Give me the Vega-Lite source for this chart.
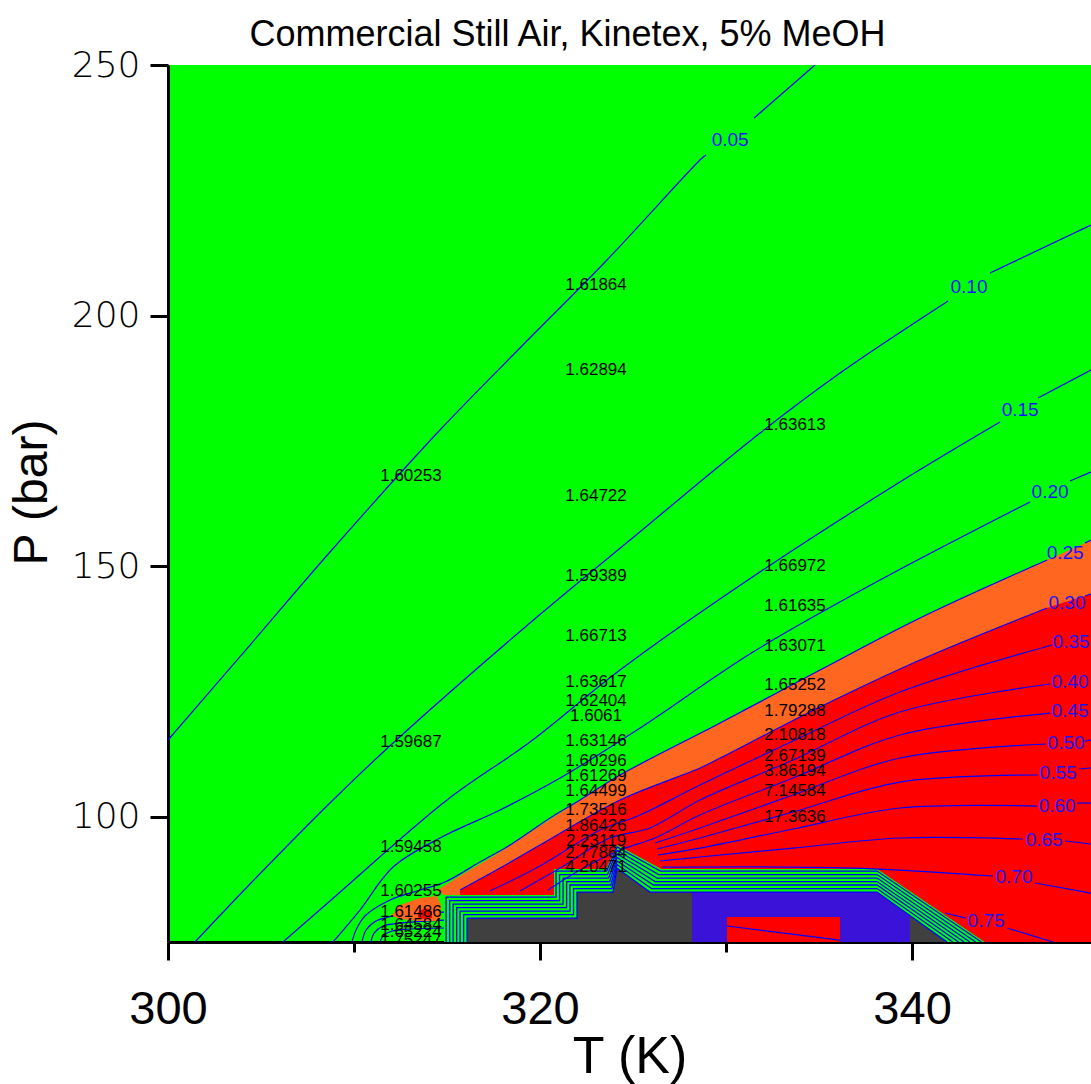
{
"$schema": "https://vega.github.io/schema/vega-lite/v6.json",
"width": 923, "height": 877,
"autosize": {"type": "none"},
"padding": {"left": 168, "top": 65, "right": 0, "bottom": 142},
"background": "white",
"title": {"text": "Commercial Still Air, Kinetex, 5% MeOH", "font": "Liberation Sans", "fontSize": 36, "fontWeight": "normal", "color": "black", "anchor": "middle", "frame": "group", "dx": -62, "dy": 37, "offset": 2, "baseline": "alphabetic"},
"config": {"view": {"fill": "#00ff00", "stroke": null}},
"datasets": {
"orange": [
{"T":314.46,"P":85.37,"P2":85.2},{"T":314.84,"P":86.22,"P2":84.37},{"T":315.70,"P":88.16,"P2":75},{"T":317.85,"P":92.95,"P2":75},{"T":320.0,"P":98.14,"P2":75},{"T":322.15,"P":103.33,"P2":75},{"T":324.30,"P":108.32,"P2":75},{"T":329.68,"P":118.70,"P2":75},{"T":335.05,"P":129.27,"P2":75},{"T":340.43,"P":139.65,"P2":75},{"T":347.26,"P":151.22,"P2":75},{"T":349.30,"P":154.62,"P2":75},{"T":349.62,"P":155.21,"P2":75}],
"red": [
{"T":315.70,"P":85.37},{"T":317.85,"P":89.76},{"T":320.0,"P":94.35},{"T":324.30,"P":103.33},{"T":328.60,"P":109.72},{"T":329.68,"P":111.71},{"T":335.05,"P":121.89},{"T":340.43,"P":131.27},{"T":347.26,"P":141.64},{"T":349.30,"P":144.04},{"T":349.62,"P":144.44}],
"zone": [
{"T":314.84,"P":84.37},{"T":320.75,"P":84.37},{"T":320.75,"P":89.56},{"T":323.55,"P":89.56},{"T":324.14,"P":94.35},{"T":326.52,"P":89.56},{"T":338.12,"P":89.56},{"T":343.90,"P":75}],
"bluezone": [
{"T":328.17,"P":84.97},{"T":338.12,"P":84.97},{"T":339.89,"P":80.18}],
"gray": [
{"T":316.08,"P":79.78},{"T":321.99,"P":79.78},{"T":321.99,"P":84.97},{"T":323.92,"P":84.97},{"T":324.14,"P":89.76},{"T":325.91,"P":84.97},{"T":328.17,"P":84.97}],
"gtri": [
{"T":339.89,"P":80.18},{"T":341.88,"P":75}],
"rbox": [
{"T":330.05,"P":79.98},{"T":336.13,"P":79.98}],
"blob": [
{"T":312.04,"P":80.38,"P2":80.18},{"T":312.47,"P":82.38,"P2":79.58},{"T":313.55,"P":83.77,"P2":79.18},{"T":314.46,"P":84.17,"P2":79.18},{"T":314.68,"P":82.38,"P2":79.78}],
"spot": [
{"T":313.44,"P":81.0,"P2":79.9},{"T":313.82,"P":81.8,"P2":79.6},{"T":314.19,"P":81.2,"P2":79.8}],
"stripes": [
{"s":0,"i":0,"T":316.08,"P":75},{"s":0,"i":1,"T":316.08,"P":79.78},{"s":0,"i":2,"T":321.99,"P":79.78},{"s":0,"i":3,"T":321.99,"P":84.97},{"s":0,"i":4,"T":323.92,"P":84.97},{"s":0,"i":5,"T":324.14,"P":89.76},{"s":0,"i":6,"T":325.91,"P":84.97},{"s":0,"i":7,"T":338.12,"P":84.97},{"s":0,"i":8,"T":341.88,"P":75},
{"s":1,"i":0,"T":315.89,"P":75},{"s":1,"i":1,"T":315.89,"P":80.48},{"s":1,"i":2,"T":321.80,"P":80.48},{"s":1,"i":3,"T":321.80,"P":85.67},{"s":1,"i":4,"T":323.86,"P":85.67},{"s":1,"i":5,"T":324.14,"P":90.46},{"s":1,"i":6,"T":326.00,"P":85.67},{"s":1,"i":7,"T":338.12,"P":85.67},{"s":1,"i":8,"T":342.19,"P":75},
{"s":2,"i":0,"T":315.70,"P":75},{"s":2,"i":1,"T":315.70,"P":81.18},{"s":2,"i":2,"T":321.61,"P":81.18},{"s":2,"i":3,"T":321.61,"P":86.37},{"s":2,"i":4,"T":323.81,"P":86.37},{"s":2,"i":5,"T":324.14,"P":91.16},{"s":2,"i":6,"T":326.10,"P":86.37},{"s":2,"i":7,"T":338.12,"P":86.37},{"s":2,"i":8,"T":342.50,"P":75},
{"s":3,"i":0,"T":315.52,"P":75},{"s":3,"i":1,"T":315.52,"P":81.87},{"s":3,"i":2,"T":321.43,"P":81.87},{"s":3,"i":3,"T":321.43,"P":87.06},{"s":3,"i":4,"T":323.75,"P":87.06},{"s":3,"i":5,"T":324.14,"P":91.85},{"s":3,"i":6,"T":326.19,"P":87.06},{"s":3,"i":7,"T":338.12,"P":87.06},{"s":3,"i":8,"T":342.80,"P":75},
{"s":4,"i":0,"T":315.33,"P":75},{"s":4,"i":1,"T":315.33,"P":82.57},{"s":4,"i":2,"T":321.24,"P":82.57},{"s":4,"i":3,"T":321.24,"P":87.76},{"s":4,"i":4,"T":323.69,"P":87.76},{"s":4,"i":5,"T":324.14,"P":92.55},{"s":4,"i":6,"T":326.29,"P":87.76},{"s":4,"i":7,"T":338.12,"P":87.76},{"s":4,"i":8,"T":343.11,"P":75},
{"s":5,"i":0,"T":315.14,"P":75},{"s":5,"i":1,"T":315.14,"P":83.27},{"s":5,"i":2,"T":321.05,"P":83.27},{"s":5,"i":3,"T":321.05,"P":88.46},{"s":5,"i":4,"T":323.63,"P":88.46},{"s":5,"i":5,"T":324.14,"P":93.25},{"s":5,"i":6,"T":326.38,"P":88.46},{"s":5,"i":7,"T":338.12,"P":88.46},{"s":5,"i":8,"T":343.42,"P":75},
{"s":6,"i":0,"T":314.95,"P":75},{"s":6,"i":1,"T":314.95,"P":83.97},{"s":6,"i":2,"T":320.86,"P":83.97},{"s":6,"i":3,"T":320.86,"P":89.16},{"s":6,"i":4,"T":323.58,"P":89.16},{"s":6,"i":5,"T":324.14,"P":93.95},{"s":6,"i":6,"T":326.47,"P":89.16},{"s":6,"i":7,"T":338.12,"P":89.16},{"s":6,"i":8,"T":343.73,"P":75}],
"lines": [
{"s":"005a","i":0,"T":300,"P":115.30},{"s":"005a","i":1,"T":304.41,"P":134.26},{"s":"005a","i":2,"T":308.71,"P":152.82},{"s":"005a","i":3,"T":314.62,"P":177.16},{"s":"005a","i":4,"T":318.92,"P":193.53},{"s":"005a","i":5,"T":323.60,"P":211.09},{"s":"005a","i":6,"T":328.60,"P":231.04},{"s":"005a","i":7,"T":328.92,"P":232.04},
{"s":"005b","i":0,"T":331.51,"P":239.42},{"s":"005b","i":1,"T":334.78,"P":250},
{"s":"010a","i":0,"T":301.45,"P":75},{"s":"010a","i":1,"T":304.41,"P":86.57},{"s":"010a","i":2,"T":308.87,"P":103.33},{"s":"010a","i":3,"T":312.10,"P":114.71},{"s":"010a","i":4,"T":319.46,"P":138.65},{"s":"010a","i":5,"T":324.84,"P":155.21},{"s":"010a","i":6,"T":331.83,"P":176.57},{"s":"010a","i":7,"T":336.13,"P":188.54},{"s":"010a","i":8,"T":341.94,"P":202.91},
{"s":"010b","i":0,"T":344.19,"P":208.49},{"s":"010b","i":1,"T":349.62,"P":218.07},
{"s":"015a","i":0,"T":306.18,"P":75},{"s":"015a","i":1,"T":308.71,"P":83.18},{"s":"015a","i":2,"T":315.0,"P":103.33},{"s":"015a","i":3,"T":319.46,"P":114.91},{"s":"015a","i":4,"T":324.30,"P":129.27},{"s":"015a","i":5,"T":331.18,"P":147.23},{"s":"015a","i":6,"T":339.35,"P":166.79},{"s":"015a","i":7,"T":344.73,"P":178.76},
{"s":"015b","i":0,"T":346.77,"P":183.55},{"s":"015b","i":1,"T":349.62,"P":189.14},
{"s":"020a","i":0,"T":308.87,"P":75},{"s":"020a","i":1,"T":310.32,"P":81.38},{"s":"020a","i":2,"T":312.10,"P":89.96},{"s":"020a","i":3,"T":314.62,"P":95.75},{"s":"020a","i":4,"T":317.85,"P":101.34},{"s":"020a","i":5,"T":321.08,"P":107.72},{"s":"020a","i":6,"T":325.38,"P":117.70},{"s":"020a","i":7,"T":331.45,"P":132.86},{"s":"020a","i":8,"T":338.28,"P":147.23},{"s":"020a","i":9,"T":346.34,"P":162.80},
{"s":"020b","i":0,"T":348.49,"P":166.99},{"s":"020b","i":1,"T":349.62,"P":168.78},
{"s":"025a","i":0,"T":309.89,"P":75},{"s":"025a","i":1,"T":310.11,"P":77.39},{"s":"025a","i":2,"T":310.59,"P":80.18},{"s":"025a","i":3,"T":311.94,"P":83.38},{"s":"025a","i":4,"T":313.55,"P":85.37},{"s":"025a","i":5,"T":314.89,"P":86.97},{"s":"025a","i":6,"T":316.77,"P":90.96},{"s":"025a","i":7,"T":318.39,"P":94.35},{"s":"025a","i":8,"T":320.54,"P":99.74},{"s":"025a","i":9,"T":322.15,"P":103.33},{"s":"025a","i":10,"T":324.30,"P":108.32},{"s":"025a","i":11,"T":329.68,"P":118.70},{"s":"025a","i":12,"T":335.05,"P":129.27},{"s":"025a","i":13,"T":340.43,"P":139.65},{"s":"025a","i":14,"T":347.26,"P":151.22},
{"s":"025b","i":0,"T":349.30,"P":154.62},{"s":"025b","i":1,"T":349.62,"P":155.21},
{"s":"030a","i":0,"T":315.70,"P":85.37},{"s":"030a","i":1,"T":317.85,"P":89.76},{"s":"030a","i":2,"T":320.0,"P":94.35},{"s":"030a","i":3,"T":324.30,"P":103.33},{"s":"030a","i":4,"T":328.60,"P":109.72},{"s":"030a","i":5,"T":329.68,"P":111.71},{"s":"030a","i":6,"T":335.05,"P":121.89},{"s":"030a","i":7,"T":340.43,"P":131.27},{"s":"030a","i":8,"T":347.26,"P":141.64},
{"s":"030b","i":0,"T":349.30,"P":144.04},{"s":"030b","i":1,"T":349.62,"P":144.44},
{"s":"035","i":0,"T":317.31,"P":85.17},{"s":"035","i":1,"T":320.0,"P":90.16},{"s":"035","i":2,"T":323.23,"P":97.34},{"s":"035","i":3,"T":325.38,"P":100.34},{"s":"035","i":4,"T":328.60,"P":106.32},{"s":"035","i":5,"T":333.60,"P":115.10},{"s":"035","i":6,"T":339.35,"P":124.88},{"s":"035","i":7,"T":347.53,"P":134.26},
{"s":"040","i":0,"T":318.92,"P":85.17},{"s":"040","i":1,"T":321.08,"P":89.76},{"s":"040","i":2,"T":323.76,"P":95.75},{"s":"040","i":3,"T":325.91,"P":97.74},{"s":"040","i":4,"T":328.60,"P":103.33},{"s":"040","i":5,"T":333.60,"P":111.31},{"s":"040","i":6,"T":339.35,"P":120.89},{"s":"040","i":7,"T":347.42,"P":126.48},
{"s":"045","i":0,"T":320.43,"P":85.37},{"s":"045","i":1,"T":322.15,"P":89.36},{"s":"045","i":2,"T":324.30,"P":93.36},{"s":"045","i":3,"T":326.18,"P":95.75},{"s":"045","i":4,"T":328.60,"P":100.34},{"s":"045","i":5,"T":333.60,"P":107.72},{"s":"045","i":6,"T":339.35,"P":116.30},{"s":"045","i":7,"T":347.42,"P":120.69},
{"s":"050a","i":0,"T":326.18,"P":94.75},{"s":"050a","i":1,"T":328.60,"P":97.74},{"s":"050a","i":2,"T":333.60,"P":104.33},{"s":"050a","i":3,"T":339.35,"P":111.71},{"s":"050a","i":4,"T":347.20,"P":114.51},
{"s":"050b","i":0,"T":349.30,"P":115.10},{"s":"050b","i":1,"T":349.62,"P":115.30},
{"s":"055a","i":0,"T":326.29,"P":93.56},{"s":"055a","i":1,"T":328.60,"P":95.75},{"s":"055a","i":2,"T":333.60,"P":100.94},{"s":"055a","i":3,"T":339.35,"P":106.92},{"s":"055a","i":4,"T":346.77,"P":108.32},
{"s":"055b","i":0,"T":348.98,"P":109.52},{"s":"055b","i":1,"T":349.62,"P":109.72},
{"s":"060a","i":0,"T":326.34,"P":92.36},{"s":"060a","i":1,"T":328.60,"P":93.75},{"s":"060a","i":2,"T":333.60,"P":97.55},{"s":"060a","i":3,"T":339.35,"P":101.74},{"s":"060a","i":4,"T":346.72,"P":102.13},
{"s":"060b","i":0,"T":348.87,"P":102.73},{"s":"060b","i":1,"T":349.62,"P":102.73},
{"s":"065a","i":0,"T":326.45,"P":91.16},{"s":"065a","i":1,"T":328.60,"P":91.96},{"s":"065a","i":2,"T":333.60,"P":93.75},{"s":"065a","i":3,"T":339.35,"P":95.75},{"s":"065a","i":4,"T":345.97,"P":95.55},
{"s":"065b","i":0,"T":348.23,"P":95.15},{"s":"065b","i":1,"T":349.62,"P":94.55},
{"s":"070a","i":0,"T":326.56,"P":89.96},{"s":"070a","i":1,"T":333.60,"P":89.96},{"s":"070a","i":2,"T":338.28,"P":89.56},{"s":"070a","i":3,"T":344.35,"P":88.17},
{"s":"070b","i":0,"T":346.61,"P":86.77},{"s":"070b","i":1,"T":349.62,"P":84.77},
{"s":"075a","i":0,"T":341.77,"P":80.78},{"s":"075a","i":1,"T":342.90,"P":79.78},
{"s":"075b","i":0,"T":345.11,"P":77.79},{"s":"075b","i":1,"T":347.58,"P":75.0},
{"s":"080","i":0,"T":330.05,"P":78.19},{"s":"080","i":1,"T":336.13,"P":75.39},
{"s":"U1","i":0,"T":310.43,"P":75},{"s":"U1","i":1,"T":310.65,"P":77.39},{"s":"U1","i":2,"T":311.18,"P":79.18},{"s":"U1","i":3,"T":312.04,"P":80.18},{"s":"U1","i":4,"T":313.55,"P":80.78},{"s":"U1","i":5,"T":314.84,"P":80.98},
{"s":"U2","i":0,"T":310.91,"P":75},{"s":"U2","i":1,"T":311.08,"P":76.79},{"s":"U2","i":2,"T":311.56,"P":78.19},{"s":"U2","i":3,"T":312.47,"P":78.78},{"s":"U2","i":4,"T":313.82,"P":79.18},{"s":"U2","i":5,"T":314.84,"P":79.38},
{"s":"U3","i":0,"T":311.40,"P":75},{"s":"U3","i":1,"T":311.56,"P":76.19},{"s":"U3","i":2,"T":312.04,"P":77.19},{"s":"U3","i":3,"T":313.01,"P":77.59},{"s":"U3","i":4,"T":314.84,"P":77.79}],
"labels": [
{"t":"1.60253","T":313.06,"P":167.98},{"t":"1.59687","T":313.06,"P":114.91},{"t":"1.59458","T":313.06,"P":93.95},{"t":"1.60255","T":313.06,"P":85.17},{"t":"1.61486","T":313.06,"P":80.98},{"t":"1.64584","T":313.06,"P":78.39},{"t":"1.65224","T":313.06,"P":76.99},{"t":"1.75247","T":313.06,"P":75.39},
{"t":"1.61864","T":323.01,"P":206.10},{"t":"1.62894","T":323.01,"P":189.14},{"t":"1.64722","T":323.01,"P":163.99},{"t":"1.59389","T":323.01,"P":148.03},{"t":"1.66713","T":323.01,"P":136.06},{"t":"1.63617","T":323.01,"P":126.88},{"t":"1.62404","T":323.01,"P":123.09},{"t":"1.6061","T":323.01,"P":120.09},{"t":"1.63146","T":323.01,"P":115.10},{"t":"1.60296","T":323.01,"P":111.11},{"t":"1.61269","T":323.01,"P":108.12},{"t":"1.64499","T":323.01,"P":105.13},{"t":"1.73516","T":323.01,"P":101.34},{"t":"1.86426","T":323.01,"P":98.14},{"t":"2.23119","T":323.01,"P":95.15},{"t":"2.77864","T":323.01,"P":92.75},{"t":"4.20471","T":323.01,"P":89.96},
{"t":"1.63613","T":333.71,"P":178.16},{"t":"1.66972","T":333.71,"P":150.02},{"t":"1.61635","T":333.71,"P":142.04},{"t":"1.63071","T":333.71,"P":134.06},{"t":"1.65252","T":333.71,"P":126.28},{"t":"1.79288","T":333.71,"P":121.09},{"t":"2.10818","T":333.71,"P":116.30},{"t":"2.67139","T":333.71,"P":112.11},{"t":"3.86194","T":333.71,"P":109.12},{"t":"7.14584","T":333.71,"P":105.13},{"t":"17.3636","T":333.71,"P":99.94}],
"levels": [
{"t":"0.05","T":330.22,"P":235.03},{"t":"0.10","T":343.06,"P":205.70},{"t":"0.15","T":345.81,"P":181.16},{"t":"0.20","T":347.42,"P":164.79},{"t":"0.25","T":348.23,"P":152.62},{"t":"0.30","T":348.33,"P":142.64},{"t":"0.35","T":348.55,"P":134.86},{"t":"0.40","T":348.49,"P":126.88},{"t":"0.45","T":348.49,"P":121.09},{"t":"0.50","T":348.28,"P":114.71},{"t":"0.55","T":347.85,"P":108.72},{"t":"0.60","T":347.80,"P":102.13},{"t":"0.65","T":347.10,"P":95.35},{"t":"0.70","T":345.48,"P":87.97},{"t":"0.75","T":343.98,"P":79.18}]
},
"encoding": {
"x": {"field": "T", "type": "quantitative", "scale": {"domain": [300, 349.62], "nice": false, "zero": false},
 "axis": {"values": [300, 310, 320, 330, 340], "labelExpr": "datum.value % 20 === 0 ? datum.label : ''", "tickSize": {"condition": {"test": "datum.value % 20 === 0", "value": 18}, "value": 10}, "tickWidth": 3, "tickColor": "black", "domainWidth": 3, "domainColor": "black", "grid": false, "labelFont": "Liberation Sans", "labelFontSize": 47, "labelPadding": 26, "labelColor": "black", "labelFlush": false, "labelOverlap": false, "title": "T (K)", "titleFont": "Liberation Sans", "titleFontSize": 52, "titleFontWeight": "normal", "titleColor": "black", "titleY": 130, "titleBaseline": "alphabetic"}},
"y": {"field": "P", "type": "quantitative", "scale": {"domain": [75, 250], "nice": false, "zero": false},
 "axis": {"values": [100, 150, 200, 250], "tickSize": 18, "tickWidth": 3, "tickColor": "black", "domainWidth": 3, "domainColor": "black", "grid": false, "labelFont": "DejaVu Sans", "labelFontSize": 36, "labelFontWeight": 200, "labelPadding": 10, "labelColor": "black", "labelFlush": false, "labelOverlap": false, "title": "P (bar)", "titleFont": "Liberation Sans", "titleFontSize": 48, "titleFontWeight": "normal", "titleColor": "black", "titleAngle": 270, "titleX": -122, "titleY": 427, "titleAlign": "center", "titleBaseline": "alphabetic"}}
},
"layer": [
{"data": {"name": "orange"}, "mark": {"type": "area", "color": "#ff6620", "clip": true, "interpolate": "catmull-rom"}, "encoding": {"y2": {"field": "P2"}}},
{"data": {"name": "red"}, "mark": {"type": "area", "color": "#ff0000", "clip": true, "interpolate": "catmull-rom"}, "encoding": {"y2": {"datum": 75}}},
{"data": {"name": "zone"}, "mark": {"type": "area", "color": "#00ff00", "clip": true}, "encoding": {"y2": {"datum": 75}}},
{"data": {"name": "bluezone"}, "mark": {"type": "area", "color": "#3a12d8", "clip": true}, "encoding": {"y2": {"datum": 75}}},
{"data": {"name": "gray"}, "mark": {"type": "area", "color": "#404040", "clip": true}, "encoding": {"y2": {"datum": 75}}},
{"data": {"name": "gtri"}, "mark": {"type": "area", "color": "#404040", "clip": true}, "encoding": {"y2": {"datum": 75}}},
{"data": {"name": "rbox"}, "mark": {"type": "area", "color": "#ff0000", "clip": true}, "encoding": {"y2": {"datum": 75}}},
{"data": {"name": "stripes"}, "mark": {"type": "line", "color": "#0000ff", "strokeWidth": 1.3, "clip": true}, "encoding": {"detail": {"field": "s"}, "order": {"field": "i"}}},
{"data": {"name": "lines"}, "mark": {"type": "line", "color": "#0000ff", "strokeWidth": 1.2, "clip": true, "interpolate": "catmull-rom"}, "encoding": {"detail": {"field": "s"}, "order": {"field": "i"}}},
{"data": {"name": "blob"}, "mark": {"type": "area", "color": "#ff6620", "clip": true}, "encoding": {"y2": {"field": "P2"}}},
{"data": {"name": "spot"}, "mark": {"type": "area", "color": "#ff0000", "clip": true}, "encoding": {"y2": {"field": "P2"}}},
{"data": {"name": "labels"}, "mark": {"type": "text", "font": "Liberation Sans", "fontSize": 17, "color": "black", "align": "center", "baseline": "middle", "clip": true}, "encoding": {"text": {"field": "t"}}},
{"data": {"name": "levels"}, "mark": {"type": "text", "font": "Liberation Sans", "fontSize": 19, "color": "#1414ff", "align": "center", "baseline": "middle", "clip": true}, "encoding": {"text": {"field": "t"}}}
]
}
